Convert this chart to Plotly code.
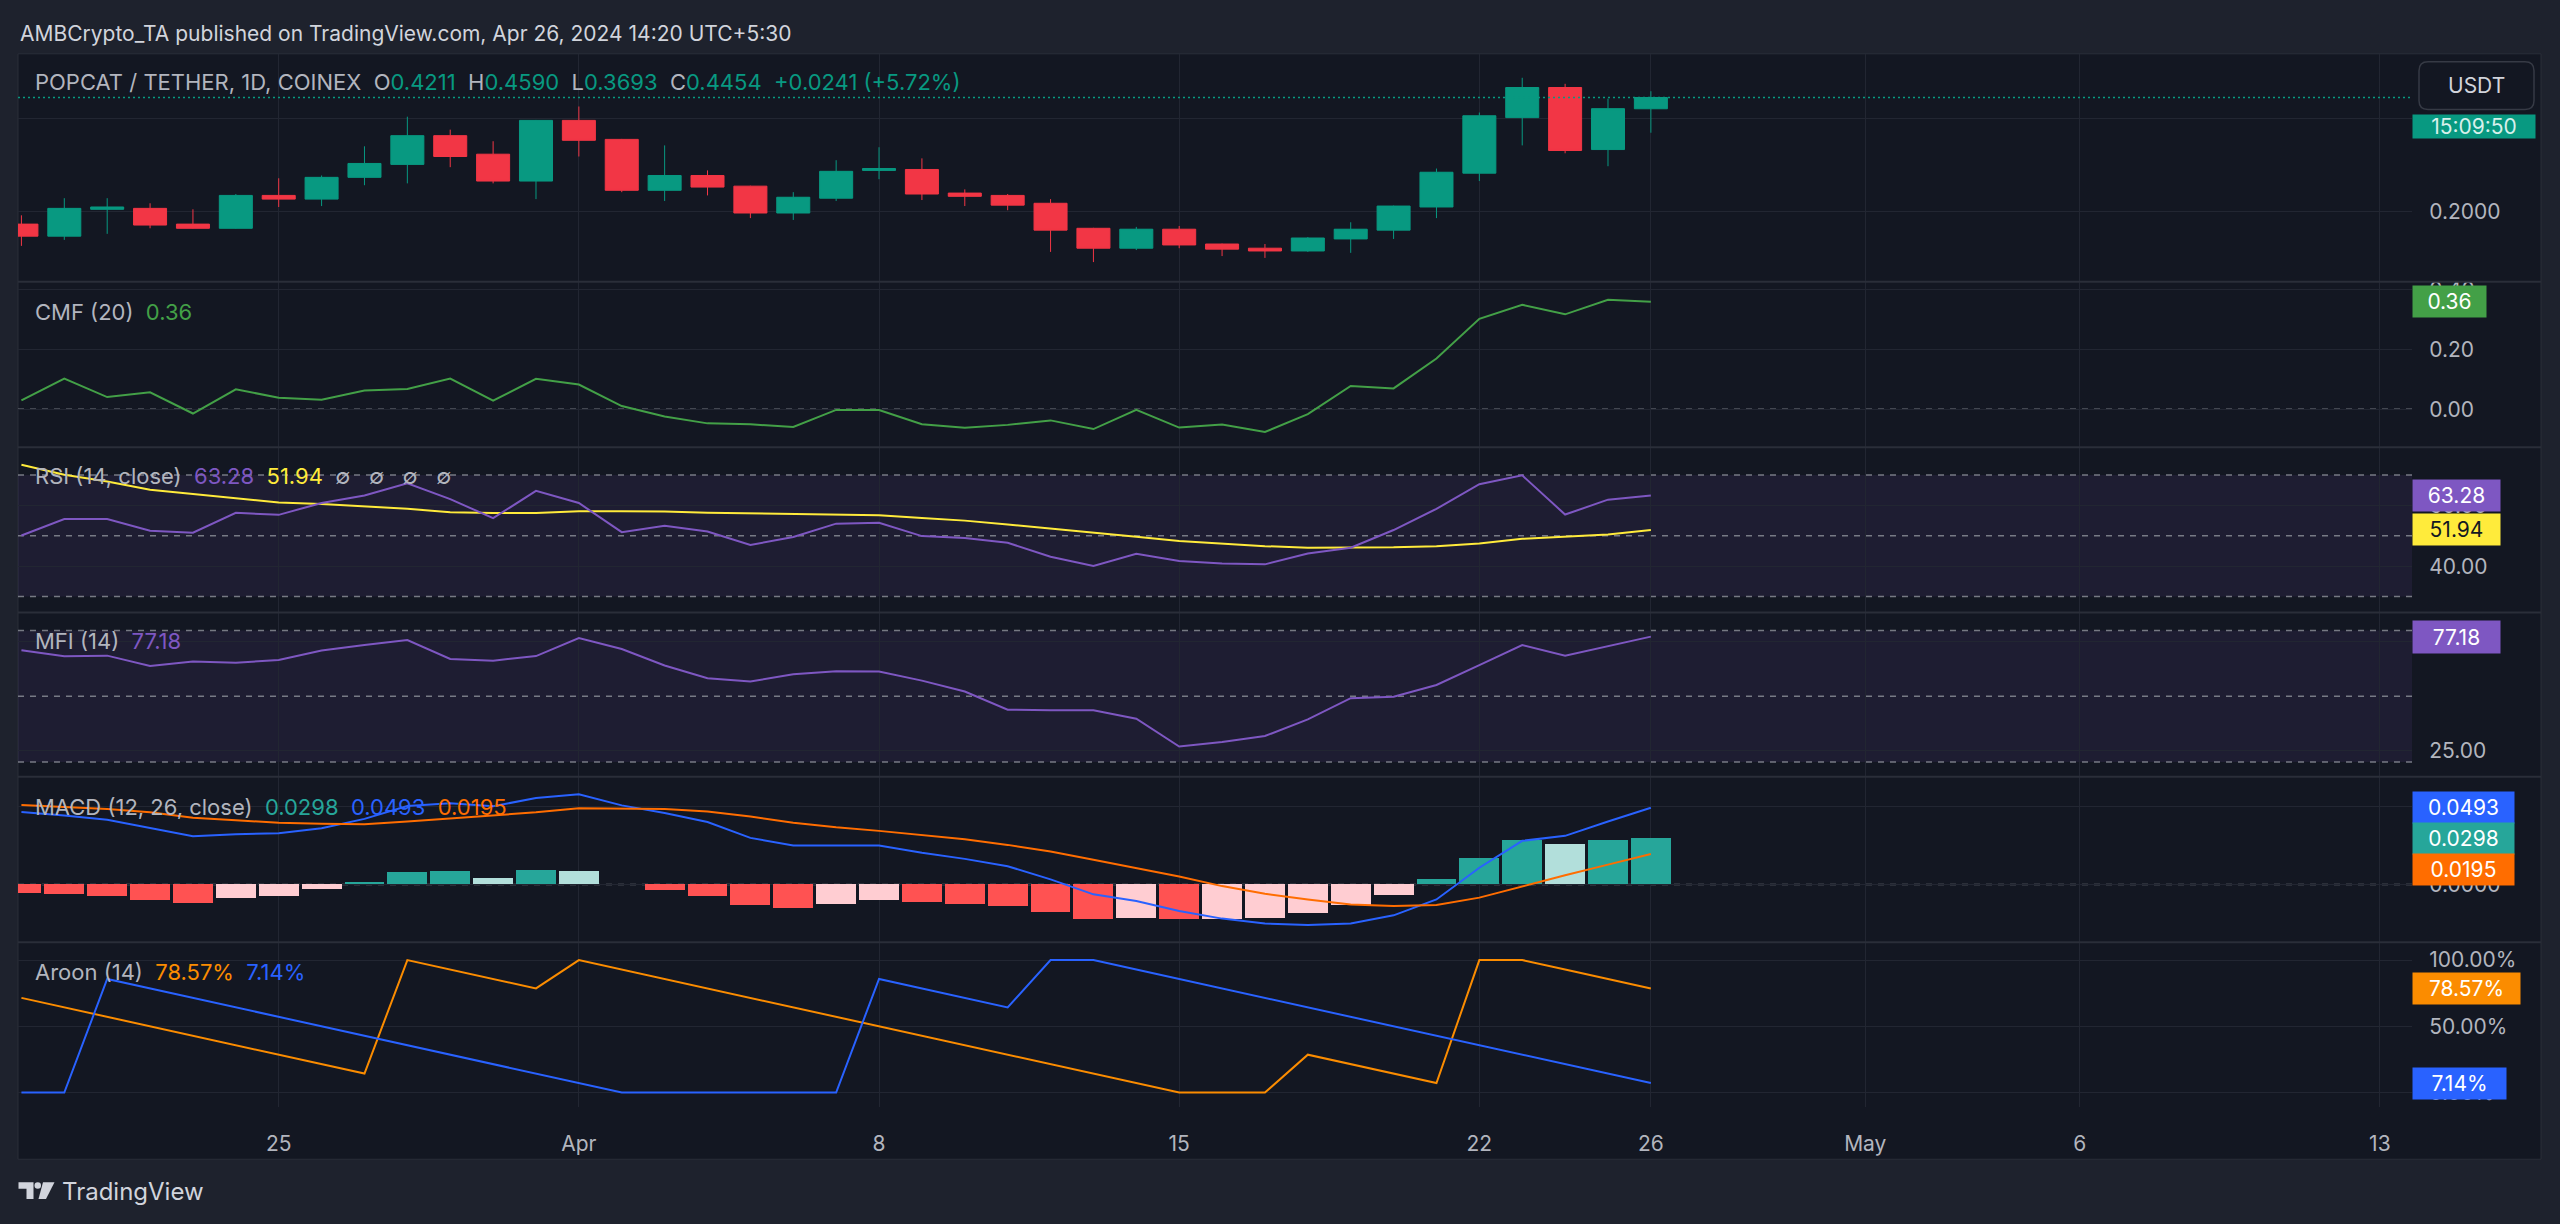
import plotly.graph_objects as go

W, H = 2560, 1224
FONT = "Inter"

# ---------------- data ----------------
dates = ["2024-03-19", "2024-03-20", "2024-03-21", "2024-03-22", "2024-03-23", "2024-03-24",
         "2024-03-25", "2024-03-26", "2024-03-27", "2024-03-28", "2024-03-29", "2024-03-30",
         "2024-03-31", "2024-04-01", "2024-04-02", "2024-04-03", "2024-04-04", "2024-04-05",
         "2024-04-06", "2024-04-07", "2024-04-08", "2024-04-09", "2024-04-10", "2024-04-11",
         "2024-04-12", "2024-04-13", "2024-04-14", "2024-04-15", "2024-04-16", "2024-04-17",
         "2024-04-18", "2024-04-19", "2024-04-20", "2024-04-21", "2024-04-22", "2024-04-23",
         "2024-04-24", "2024-04-25", "2024-04-26"]

open_ = [0.172, 0.146, 0.204, 0.206, 0.172, 0.163, 0.234, 0.226, 0.273, 0.301, 0.363, 0.323,
         0.265, 0.396, 0.355, 0.245, 0.277, 0.254, 0.196, 0.228, 0.288, 0.290, 0.239, 0.234,
         0.217, 0.163, 0.120, 0.161, 0.129, 0.120, 0.114, 0.140, 0.159, 0.209, 0.282, 0.402,
         0.467, 0.333, 0.4211]
high = [0.191, 0.228, 0.228, 0.217, 0.204, 0.237, 0.271, 0.277, 0.340, 0.404, 0.376, 0.351,
        0.397, 0.426, 0.356, 0.342, 0.288, 0.255, 0.241, 0.310, 0.338, 0.314, 0.247, 0.237,
        0.226, 0.164, 0.166, 0.168, 0.130, 0.129, 0.144, 0.176, 0.212, 0.292, 0.413, 0.488,
        0.475, 0.443, 0.4590]
low = [0.125, 0.138, 0.151, 0.163, 0.162, 0.162, 0.209, 0.211, 0.256, 0.260, 0.295, 0.260,
       0.226, 0.318, 0.241, 0.222, 0.234, 0.185, 0.181, 0.222, 0.269, 0.224, 0.211, 0.202,
       0.112, 0.090, 0.116, 0.120, 0.103, 0.099, 0.112, 0.110, 0.140, 0.185, 0.265, 0.342,
       0.325, 0.297, 0.3693]
close = [0.146, 0.206, 0.209, 0.170, 0.163, 0.234, 0.226, 0.273, 0.303, 0.363, 0.318, 0.265,
         0.396, 0.353, 0.245, 0.277, 0.252, 0.196, 0.230, 0.286, 0.292, 0.237, 0.232, 0.213,
         0.159, 0.120, 0.161, 0.127, 0.118, 0.114, 0.142, 0.161, 0.211, 0.284, 0.406, 0.467,
         0.331, 0.4213, 0.4454]

cmf = [0.030, 0.103, 0.041, 0.057, -0.014, 0.067, 0.039, 0.032, 0.063, 0.068, 0.103, 0.029,
       0.102, 0.083, 0.011, -0.024, -0.047, -0.050, -0.059, -0.002, -0.002, -0.050, -0.062,
       -0.052, -0.037, -0.066, -0.002, -0.061, -0.051, -0.076, -0.016, 0.078, 0.070, 0.170,
       0.303, 0.350, 0.318, 0.367, 0.36]

rsi = [50.1, 55.5, 55.5, 51.7, 51.0, 57.6, 56.9, 60.8, 63.3, 67.3, 62.1, 55.8, 64.8, 60.8,
       51.2, 53.3, 51.4, 47.0, 49.6, 54.0, 54.3, 49.9, 49.3, 47.7, 43.1, 40.1, 44.1, 41.7,
       40.9, 40.6, 44.2, 46.1, 51.9, 58.9, 67.0, 69.9, 57.0, 61.9, 63.28]
rsi_ma = [73.4, 70.1, 67.9, 65.2, 63.8, 62.5, 61.0, 60.5, 59.7, 58.9, 57.8, 57.5, 57.5, 58.1,
          58.1, 58.0, 57.6, 57.4, 57.2, 57.0, 56.8, 55.9, 55.0, 53.7, 52.4, 51.2, 49.7, 48.3,
          47.5, 46.6, 46.1, 46.1, 46.2, 46.6, 47.5, 49.0, 49.6, 50.4, 51.94]

mfi = [71.0, 68.2, 68.5, 63.8, 65.8, 65.3, 66.5, 70.8, 73.3, 75.6, 67.0, 66.2, 68.3, 76.5,
       71.5, 64.0, 58.2, 56.7, 60.0, 61.4, 61.2, 57.1, 52.1, 43.8, 43.6, 43.6, 39.7, 27.0,
       29.1, 31.8, 39.4, 49.1, 49.7, 55.1, 64.2, 73.3, 68.5, 73.0, 77.18]

macd = [0.0465, 0.0443, 0.0415, 0.0361, 0.0310, 0.0322, 0.0329, 0.0361, 0.0421, 0.0504, 0.0521,
        0.0502, 0.0556, 0.0580, 0.0508, 0.0459, 0.0401, 0.0299, 0.0250, 0.0250, 0.0250, 0.0203,
        0.0164, 0.0117, 0.0032, -0.0064, -0.0107, -0.0171, -0.0220, -0.0252, -0.0261, -0.0252,
        -0.0199, -0.0097, 0.0107, 0.0280, 0.0312, 0.0404, 0.0493]
signal = [0.0510, 0.0497, 0.0485, 0.0463, 0.0429, 0.0412, 0.0397, 0.0389, 0.0386, 0.0404, 0.0425,
          0.0443, 0.0463, 0.0489, 0.0489, 0.0485, 0.0468, 0.0436, 0.0397, 0.0367, 0.0344, 0.0318,
          0.0290, 0.0254, 0.0211, 0.0158, 0.0105, 0.0051, -0.0011, -0.0060, -0.0097, -0.0130,
          -0.0139, -0.0132, -0.0085, -0.0011, 0.0059, 0.0127, 0.0195]
hist = [-0.0054, -0.0060, -0.0073, -0.0103, -0.0120, -0.0090, -0.0073, -0.0030, 0.0015, 0.0081,
        0.0084, 0.0040, 0.0094, 0.0085, 0.0005, -0.0036, -0.0077, -0.0135, -0.0154, -0.0124,
        -0.0100, -0.0113, -0.0126, -0.0141, -0.0179, -0.0224, -0.0213, -0.0224, -0.0220, -0.0213,
        -0.0184, -0.0130, -0.0069, 0.0034, 0.0168, 0.0287, 0.0262, 0.0287, 0.0298]

aroon_up = [71.43, 64.29, 57.14, 50.00, 42.86, 35.71, 28.57, 21.43, 14.29, 100.0, 92.86, 85.71,
            78.57, 100.0, 92.86, 85.71, 78.57, 71.43, 64.29, 57.14, 50.00, 42.86, 35.71, 28.57,
            21.43, 14.29, 7.14, 0.0, 0.0, 0.0, 28.57, 21.43, 14.29, 7.14, 100.0, 100.0, 92.86,
            85.71, 78.57]
aroon_down = [0.0, 0.0, 85.71, 78.57, 71.43, 64.29, 57.14, 50.00, 42.86, 35.71, 28.57, 21.43,
              14.29, 7.14, 0.0, 0.0, 0.0, 0.0, 0.0, 0.0, 85.71, 78.57, 71.43, 64.29, 100.0, 100.0,
              92.86, 85.71, 78.57, 71.43, 64.29, 57.14, 50.00, 42.86, 35.71, 28.57, 21.43, 14.29,
              7.14]

tick_dates = ["2024-03-25", "2024-04-01", "2024-04-08", "2024-04-15", "2024-04-22",
              "2024-04-26", "2024-05-01", "2024-05-06", "2024-05-13"]
tick_labels = ["25", "Apr", "8", "15", "22", "26", "May", "6", "13"]

price_ticks = [0.2, 0.4]
cmf_ticks = [0.0, 0.2, 0.4]
rsi_ticks = [40, 60]
mfi_ticks = [25, 75]
macd_ticks = [0.0, 0.05]
aroon_ticks = [0, 50, 100]

# ---------------- styling ----------------
UP, DOWN = "#089981", "#F23645"
GRAY = "#B2B5BE"
GRID = "#222632"
SEP = "#2A2E39"
BG_OUT = "#1E222D"
BG_CHART = "#131722"
PURPLE = "#7E57C2"
YELLOW = "#FFEB3B"
CMF_C = "#43A047"
BLUE = "#2962FF"
ORANGE_M = "#FF6D00"
ORANGE_A = "#FB8C00"
HIST_C = {"up_strong": "#26A69A", "up_weak": "#B2DFDB", "dn_weak": "#FFCDD2", "dn_strong": "#FF5252"}


def X(px):
    return px / W


def Y(py):
    return 1 - py / H


# panel pixel bounds (top, bottom)
panels = [(49, 278), (278, 444), (444, 610), (610, 775), (775, 941), (941, 1107)]
ranges = [[0.0473, 0.5398], [-0.1267, 0.4267], [24.75, 79.18], [13.18, 88.18],
          [-0.03713, 0.06914], [-11.28, 113.5]]
PLOT_L, PLOT_R = 18, 2412

# histogram colours from rising / falling
hist_colors = []
for i, v in enumerate(hist):
    prev = hist[i - 1] if i > 0 else None
    rising = prev is not None and v > prev
    if v >= 0:
        hist_colors.append(HIST_C["up_strong"] if rising else HIST_C["up_weak"])
    else:
        hist_colors.append(HIST_C["dn_weak"] if rising else HIST_C["dn_strong"])

fig = go.Figure()

fig.add_trace(go.Candlestick(
    x=dates, open=open_, high=high, low=low, close=close, xaxis="x", yaxis="y",
    increasing=dict(line=dict(color=UP, width=1), fillcolor=UP),
    decreasing=dict(line=dict(color=DOWN, width=1), fillcolor=DOWN),
    whiskerwidth=0, hoverinfo="skip"))

fig.add_trace(go.Scatter(x=dates, y=cmf, mode="lines", line=dict(color=CMF_C, width=2),
                         xaxis="x", yaxis="y2", hoverinfo="skip"))
fig.add_trace(go.Scatter(x=dates, y=rsi_ma, mode="lines", line=dict(color=YELLOW, width=2),
                         xaxis="x", yaxis="y3", hoverinfo="skip"))
fig.add_trace(go.Scatter(x=dates, y=rsi, mode="lines", line=dict(color=PURPLE, width=2),
                         xaxis="x", yaxis="y3", hoverinfo="skip"))
fig.add_trace(go.Scatter(x=dates, y=mfi, mode="lines", line=dict(color=PURPLE, width=2),
                         xaxis="x", yaxis="y4", hoverinfo="skip"))
fig.add_trace(go.Bar(x=dates, y=hist, marker=dict(color=hist_colors, line=dict(width=0)),
                     width=0.93 * 86400000, xaxis="x", yaxis="y5", hoverinfo="skip"))
fig.add_trace(go.Scatter(x=dates, y=macd, mode="lines", line=dict(color=BLUE, width=2),
                         xaxis="x", yaxis="y5", hoverinfo="skip"))
fig.add_trace(go.Scatter(x=dates, y=signal, mode="lines", line=dict(color=ORANGE_M, width=2),
                         xaxis="x", yaxis="y5", hoverinfo="skip"))
fig.add_trace(go.Scatter(x=dates, y=aroon_up, mode="lines", line=dict(color=ORANGE_A, width=2),
                         xaxis="x", yaxis="y6", hoverinfo="skip"))
fig.add_trace(go.Scatter(x=dates, y=aroon_down, mode="lines", line=dict(color=BLUE, width=2),
                         xaxis="x", yaxis="y6", hoverinfo="skip"))

tickfont = dict(family=FONT, size=21, color=GRAY)

layout = dict(
    width=W, height=H, margin=dict(l=0, r=0, t=0, b=0),
    paper_bgcolor=BG_OUT, plot_bgcolor="rgba(0,0,0,0)", showlegend=False,
    boxgap=0.23, boxgroupgap=0, bargap=0,
    xaxis=dict(type="date", domain=[X(PLOT_L), X(PLOT_R)],
               range=["2024-03-18 22:05:00", "2024-05-13 18:00:00"],
               anchor="y6", tickmode="array", tickvals=tick_dates, ticktext=tick_labels,
               showgrid=True, gridcolor=GRID, gridwidth=1, zeroline=False, showline=False,
               ticks="outside", ticklen=17, tickcolor="rgba(0,0,0,0)", tickfont=tickfont,
               rangeslider=dict(visible=False), fixedrange=True),
)

tick_specs = [
    (price_ticks, [f"{v:.4f}" if v != 0.4 else "" for v in price_ticks]),
    (cmf_ticks, [f"{v:.2f}" for v in cmf_ticks]),
    (rsi_ticks, [f"{v:.2f}" for v in rsi_ticks]),
    (mfi_ticks, [f"{v:.2f}" for v in mfi_ticks]),
    (macd_ticks, [f"{v:.4f}" for v in macd_ticks]),
    (aroon_ticks, [f"{v:.2f}%" for v in aroon_ticks]),
]
for i, ((top, bot), rng, (tv, tt)) in enumerate(zip(panels, ranges, tick_specs)):
    name = "yaxis" if i == 0 else f"yaxis{i + 1}"
    layout[name] = dict(domain=[Y(bot), Y(top)], range=rng, side="right", anchor="x",
                        tickmode="array", tickvals=tv, ticktext=tt, showgrid=True,
                        gridcolor=GRID, gridwidth=1, zeroline=False, showline=False,
                        ticks="outside", ticklen=12, tickcolor="rgba(0,0,0,0)",
                        tickfont=tickfont, fixedrange=True)

shapes = []
# chart frame background
shapes.append(dict(type="rect", xref="paper", yref="paper", x0=X(18), x1=X(2541), y0=Y(1159),
                   y1=Y(49), fillcolor=BG_CHART, line=dict(color=SEP, width=1), layer="below"))
# bands
shapes.append(dict(type="rect", xref="x domain", yref="y3", x0=0, x1=1, y0=30, y1=70,
                   fillcolor="rgba(126,87,194,0.10)", line=dict(width=0), layer="below"))
shapes.append(dict(type="rect", xref="x domain", yref="y4", x0=0, x1=1, y0=20, y1=80,
                   fillcolor="rgba(126,87,194,0.10)", line=dict(width=0), layer="below"))
# dashed reference lines
dash_style = dict(color="rgba(150,153,162,0.75)", width=1.5, dash="6px,6px")
for yref, val in [("y2", 0), ("y3", 70), ("y3", 50), ("y3", 30), ("y4", 80), ("y4", 50),
                  ("y4", 20), ("y5", 0)]:
    shapes.append(dict(type="line", xref="x domain", yref=yref, x0=0, x1=1, y0=val, y1=val,
                       line=dash_style, layer="below"))
# last price dotted line
shapes.append(dict(type="line", xref="x domain", yref="y", x0=0, x1=1, y0=close[-1],
                   y1=close[-1], line=dict(color=UP, width=1.5, dash="2px,3px"), layer="above"))
# panel separators
for py in [278, 444, 610, 775, 941]:
    shapes.append(dict(type="line", xref="paper", yref="paper", x0=X(18), x1=X(2541), y0=Y(py),
                       y1=Y(py), line=dict(color=SEP, width=2), layer="above"))


def rrect(x0, y0, x1, y1, r):
    return (f"M {X(x0 + r)},{Y(y0)} L {X(x1 - r)},{Y(y0)} Q {X(x1)},{Y(y0)} {X(x1)},{Y(y0 + r)} "
            f"L {X(x1)},{Y(y1 - r)} Q {X(x1)},{Y(y1)} {X(x1 - r)},{Y(y1)} "
            f"L {X(x0 + r)},{Y(y1)} Q {X(x0)},{Y(y1)} {X(x0)},{Y(y1 - r)} "
            f"L {X(x0)},{Y(y0 + r)} Q {X(x0)},{Y(y0)} {X(x0 + r)},{Y(y0)} Z")


shapes.append(dict(type="path", xref="paper", yref="paper", path=rrect(2419, 57, 2534, 105, 9),
                   fillcolor=BG_CHART, line=dict(color="#363A45", width=1.5), layer="above"))

# TradingView logo
def poly(pts):
    return "M " + " L ".join(f"{X(a)},{Y(b)}" for a, b in pts) + " Z"


LOGO = "#D1D4DC"
shapes.append(dict(type="path", xref="paper", yref="paper",
                   path=poly([(18.5, 1182), (33.5, 1182), (33.5, 1199), (26.5, 1199), (26.5, 1188.5), (18.5, 1188.5)]),
                   fillcolor=LOGO, line=dict(width=0), layer="above"))
shapes.append(dict(type="circle", xref="paper", yref="paper", x0=X(34.5), x1=X(41), y0=Y(1188.5),
                   y1=Y(1182), fillcolor=LOGO, line=dict(width=0), layer="above"))
shapes.append(dict(type="path", xref="paper", yref="paper",
                   path=poly([(43, 1182), (54.5, 1182), (46, 1199), (38.5, 1199)]),
                   fillcolor=LOGO, line=dict(width=0), layer="above"))

layout["shapes"] = shapes


def span(t, c):
    return f'<span style="color:{c}">{t}</span>'


SP = "&nbsp;&nbsp;"
SP3 = "&nbsp;&nbsp;&nbsp;"
ann = []


def text_ann(px, py, text, size=22, color=GRAY):
    ann.append(dict(x=X(px), y=Y(py), xref="paper", yref="paper", xanchor="left",
                    yanchor="middle", showarrow=False, text=text, align="left",
                    font=dict(family=FONT, size=size, color=color)))


text_ann(18, 29, "AMBCrypto_TA published on TradingView.com, Apr 26, 2024 14:20 UTC+5:30",
         size=21, color="#D1D4DC")

chg = close[-1] - close[-2]
pct = chg / close[-2] * 100
text_ann(33, 77,
         span("POPCAT / TETHER, 1D, COINEX", GRAY) + SP
         + span("O", GRAY) + span(f"{open_[-1]:.4f}", UP) + SP
         + span("H", GRAY) + span(f"{high[-1]:.4f}", UP) + SP
         + span("L", GRAY) + span(f"{low[-1]:.4f}", UP) + SP
         + span("C", GRAY) + span(f"{close[-1]:.4f}", UP) + SP
         + span(f"{chg:+.4f} ({pct:+.2f}%)", UP))
text_ann(33, 308, span("CMF (20)", GRAY) + SP + span(f"{cmf[-1]:.2f}", CMF_C))
text_ann(33, 473, span("RSI (14, close)", GRAY) + SP + span(f"{rsi[-1]:.2f}", PURPLE) + SP
         + span(f"{rsi_ma[-1]:.2f}", YELLOW) + SP
         + span("∅" + SP3 + "∅" + SP3 + "∅" + SP3 + "∅", GRAY))
text_ann(33, 639, span("MFI (14)", GRAY) + SP + span(f"{mfi[-1]:.2f}", PURPLE))
text_ann(33, 805, span("MACD (12, 26, close)", GRAY) + SP + span(f"{hist[-1]:.4f}", HIST_C["up_strong"])
         + SP + span(f"{macd[-1]:.4f}", BLUE) + SP + span(f"{signal[-1]:.4f}", ORANGE_M))
text_ann(33, 971, span("Aroon (14)", GRAY) + SP + span(f"{aroon_up[-1]:.2f}%", ORANGE_A) + SP
         + span(f"{aroon_down[-1]:.2f}%", BLUE))
text_ann(60, 1191, "TradingView", size=24, color="#D1D4DC")


def value_box(text, y, yref, bg, fg, w, h=31, yshift=0):
    ann.append(dict(text=text, x=X(PLOT_R), xref="paper", xanchor="left", y=y, yref=yref,
                    yanchor="middle", yshift=yshift, showarrow=False, bgcolor=bg,
                    font=dict(color=fg, size=21, family=FONT), width=w, height=h,
                    borderpad=0, align="center"))


value_box(f"{cmf[-1]:.2f}", cmf[-1], "y2", CMF_C, "#FFFFFF", 73)
value_box(f"{rsi[-1]:.2f}", rsi[-1], "y3", PURPLE, "#FFFFFF", 87)
value_box(f"{rsi_ma[-1]:.2f}", rsi_ma[-1], "y3", YELLOW, "#131722", 87)
value_box(f"{mfi[-1]:.2f}", mfi[-1], "y4", PURPLE, "#FFFFFF", 87, h=32)
value_box(f"{macd[-1]:.4f}", macd[-1], "y5", BLUE, "#FFFFFF", 101)
value_box(f"{hist[-1]:.4f}", hist[-1], "y5", HIST_C["up_strong"], "#FFFFFF", 101)
value_box(f"{signal[-1]:.4f}", signal[-1], "y5", ORANGE_M, "#FFFFFF", 101, yshift=-15)
value_box(f"{aroon_up[-1]:.2f}%", aroon_up[-1], "y6", ORANGE_A, "#FFFFFF", 107)
value_box(f"{aroon_down[-1]:.2f}%", aroon_down[-1], "y6", BLUE, "#FFFFFF", 93)

# countdown label under the price label
ann.append(dict(text="15:09:50", x=X(PLOT_R), xref="paper", xanchor="left", y=Y(122),
                yref="paper", yanchor="middle", showarrow=False, bgcolor=UP,
                font=dict(color="#D7F0EB", size=21, family=FONT), width=122, height=23,
                borderpad=0, align="center"))
# USDT currency button text
ann.append(dict(text="USDT", x=X(2476), xref="paper", xanchor="center", y=Y(81), yref="paper",
                yanchor="middle", showarrow=False,
                font=dict(color="#D1D4DC", size=21, family=FONT)))

layout["annotations"] = ann
fig.update_layout(**layout)

fig.write_html("out.html", config={"displayModeBar": False, "staticPlot": True},
               post_script="document.body.style.margin='0';document.body.style.overflow='hidden';")
